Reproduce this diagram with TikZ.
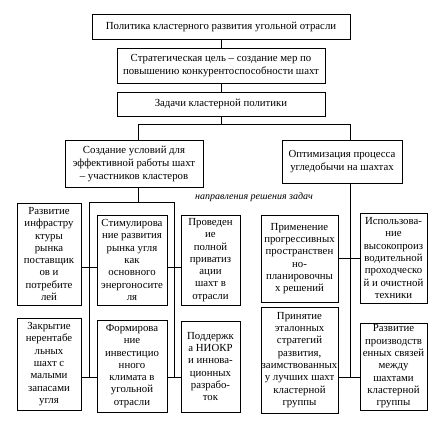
\documentclass[tikz,border=0pt]{standalone}
\usepackage{fontspec}
\setmainfont{Liberation Serif}
\begin{document}
\begin{tikzpicture}[x=1pt,y=-1pt,
  box/.style={draw, line width=0.8pt, inner sep=0pt, align=center, font=\fontsize{10.8}{13}\selectfont},
  col/.style={box, font=\fontsize{10.8}{12.3}\selectfont},
  conn/.style={line width=0.8pt}]
\useasboundingbox (0,0) rectangle (446,430);
% top chain
\node[box, minimum width=258pt, minimum height=25pt] (pol) at (221,26.5) {Политика кластерного развития угольной отрасли};
\node[box, minimum width=208pt, minimum height=35pt] (goal) at (221,65.5) {Стратегическая цель – создание мер по\\повышению конкурентоспособности шахт};
\node[box, minimum width=208pt, minimum height=24pt] (tasks) at (221,104) {Задачи кластерной политики};
\node[box, minimum width=138pt, minimum height=47pt] (left) at (134,163.5) {Создание условий для\\эффективной работы шахт\\– участников кластеров};
\node[box, minimum width=120pt, minimum height=43pt] (right) at (342,161.5) {Оптимизация процесса\\угледобычи на шахтах};
\node[font=\fontsize{10}{12}\selectfont\itshape, inner sep=0pt] (dir) at (254,197) {направления решения задач};
% columns
\node[col, minimum width=64pt, minimum height=102pt] (a1) at (49,254) {Развитие\\инфрастру\\ктуры\\рынка\\поставщик\\ов и\\потребите\\лей};
\node[col, minimum width=64pt, minimum height=92pt] (a2) at (49,364) {Закрытие\\нерентабе\\льных\\шахт с\\малыми\\запасами\\угля};
\node[col, minimum width=70pt, minimum height=90pt] (b1) at (132,260) {Стимулирова\\ние развития\\рынка угля\\как\\основного\\энергоносите\\ля};
\node[col, minimum width=70pt, minimum height=92pt] (b2) at (132,366) {Формирова\\ние\\инвестицио\\нного\\климата в\\угольной\\отрасли};
\node[col, minimum width=59pt, minimum height=90pt] (c1) at (210.5,260) {Проведен\\ие\\полной\\приватиз\\ации\\шахт в\\отрасли};
\node[col, minimum width=59pt, minimum height=91pt] (c2) at (210.5,366.5) {Поддержк\\а НИОКР\\и иннова-\\ционных\\разрабо-\\ток};
\node[col, minimum width=77pt, minimum height=87pt] (d1) at (299.5,258.5) {Применение\\прогрессивных\\пространствен\\но-\\планировочны\\х решений};
\node[col, minimum width=77pt, minimum height=106pt] (d2) at (299.5,360) {Принятие\\эталонных\\стратегий\\развития,\\заимствованных\\у лучших шахт\\кластерной\\группы};
\node[col, minimum width=67pt, minimum height=90pt] (e1) at (393.5,258) {Использова-\\ние\\высокопроиз\\водительной\\проходческо\\й и очистной\\техники};
\node[col, minimum width=67pt, minimum height=87pt] (e2) at (393.5,366.5) {Развитие\\производств\\енных связей\\между\\шахтами\\кластерной\\группы};
% coordinates
\coordinate (br) at (221,124);
\coordinate (brL) at (138,124);
\coordinate (brR) at (350,124);
\coordinate (top) at (138,202);
\coordinate (busL) at (89,202);
\coordinate (busR) at (174,202);
\coordinate (row1) at (0,267);
\coordinate (row2) at (0,377);
\coordinate (rowR1) at (0,258);
\coordinate (rowR2) at (0,377);
% connectors
\draw[conn] (pol) -- (goal);
\draw[conn] (goal) -- (tasks);
\draw[conn] (tasks) -- (br);
\draw[conn] (brL |- left.north) -- (brL) -- (brR) -- (brR |- right.north);
\draw[conn] (brL |- left.south) -- (top);
\draw[conn] (busL |- row2) -- (busL) -- (busR) -- (busR |- row2);
\draw[conn] (a1.east |- row1) -- (b1.west |- row1);
\draw[conn] (b1.east |- row1) -- (c1.west |- row1);
\draw[conn] (a2.east |- row2) -- (b2.west |- row2);
\draw[conn] (b2.east |- row2) -- (c2.west |- row2);
\draw[conn] (brR |- right.south) -- (brR |- rowR2);
\draw[conn] (d1.east |- rowR1) -- (e1.west |- rowR1);
\draw[conn] (d2.east |- rowR2) -- (e2.west |- rowR2);
\end{tikzpicture}
\end{document}
